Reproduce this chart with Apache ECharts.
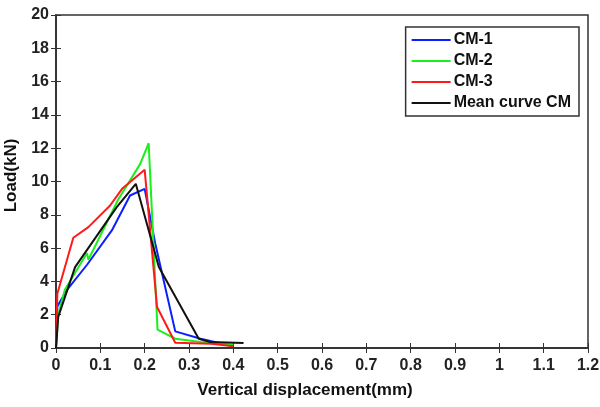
<!DOCTYPE html>
<html>
<head>
<meta charset="utf-8">
<script src="https://cdn.jsdelivr.net/npm/echarts@6/dist/echarts.min.js"></script>
<style>
  html, body { margin: 0; padding: 0; background: #fff; }
  #chart { width: 600px; height: 407px; }
</style>
</head>
<body>
<div id="chart"></div>
<script>
// series data: [displacement(mm), load(kN)]
var cm1 = [[0, 0], [0.003, 2.5], [0.024, 3.46], [0.07, 5.0], [0.126, 7.06], [0.167, 9.16], [0.2, 9.56], [0.224, 6.26], [0.269, 1.0], [0.326, 0.56], [0.4, 0.1]];
var cm2 = [[0, 0], [0.005, 2.0], [0.02, 3.5], [0.07, 5.7], [0.073, 5.3], [0.14, 8.9], [0.19, 11.06], [0.209, 12.3], [0.229, 1.1], [0.269, 0.56], [0.326, 0.36], [0.4, 0.2]];
var cm3 = [[0, 0], [0.003, 3.26], [0.039, 6.62], [0.073, 7.26], [0.122, 8.56], [0.149, 9.56], [0.2, 10.7], [0.228, 2.46], [0.269, 0.32], [0.35, 0.25], [0.4, 0.1]];
var meanCM = [[0, 0], [0.005, 1.86], [0.043, 4.86], [0.137, 8.46], [0.18, 9.86], [0.232, 4.86], [0.322, 0.56], [0.348, 0.36], [0.423, 0.3]];

var seriesNames = ['CM-1', 'CM-2', 'CM-3', 'Mean curve CM'];
var seriesColors = ['#0a1fff', '#19f019', '#ff1a1a', '#111111'];
var seriesData = [cm1, cm2, cm3, meanCM];

var chart = echarts.init(document.getElementById('chart'));

var axisColor = '#333';
var fontFam = 'Liberation Sans, Arial';
var labelStyle = { color: '#222', fontSize: 16, fontWeight: 'bold', fontFamily: fontFam };

var option = {
  animation: false,
  grid: {
    left: 56, right: 12, top: 15, bottom: 59,
    outerBoundsMode: 'none',
    containLabel: false,
    show: true, borderColor: axisColor, borderWidth: 1.5, backgroundColor: '#fff'
  },
  legend: {
    orient: 'vertical',
    right: 21, top: 27,
    itemWidth: 39, itemHeight: 2, itemGap: 5,
    padding: [5, 8, 5, 6],
    borderColor: '#333', borderWidth: 1.5,
    backgroundColor: '#fff',
    icon: 'rect',
    textStyle: { color: '#111', fontSize: 16, lineHeight: 16, fontWeight: 'bold', fontFamily: fontFam, padding: [0, 0, 0, -2] },
    data: seriesNames
  },
  xAxis: [{
    type: 'value', min: 0, max: 1.2, interval: 0.1,
    name: 'Vertical displacement(mm)', nameLocation: 'middle', nameGap: 34,
    nameTextStyle: { color: '#111', fontSize: 17, fontWeight: 'bold', fontFamily: fontFam, padding: [0, 34, 0, 0] },
    axisLine: { lineStyle: { color: axisColor, width: 1.5 } },
    axisTick: { inside: true, length: 5, lineStyle: { color: axisColor } },
    axisLabel: Object.assign({ margin: 10, formatter: function (v) { return +v.toFixed(1) + ''; } }, labelStyle),
    splitLine: { show: false }
  }, {
    type: 'value', min: 0, max: 1.2, interval: 0.1, position: 'top',
    axisLine: { lineStyle: { color: axisColor, width: 1.5 } },
    axisTick: { inside: true, length: 5, lineStyle: { color: axisColor } },
    axisLabel: { show: false }, splitLine: { show: false }
  }],
  yAxis: [{
    type: 'value', min: 0, max: 20, interval: 2,
    name: 'Load(kN)', nameLocation: 'middle', nameGap: 32, nameRotate: 90,
    nameTextStyle: { color: '#111', fontSize: 17, fontWeight: 'bold', fontFamily: fontFam, padding: [0, 0, 0, 12] },
    axisLine: { show: true, lineStyle: { color: axisColor, width: 1.5 } },
    axisTick: { show: true, inside: true, length: 5, lineStyle: { color: axisColor } },
    axisLabel: Object.assign({ margin: 7 }, labelStyle),
    splitLine: { show: false }
  }, {
    type: 'value', min: 0, max: 20, interval: 2, position: 'right',
    axisLine: { show: true, lineStyle: { color: axisColor, width: 1.5 } },
    axisTick: { show: true, inside: true, length: 5, lineStyle: { color: axisColor } },
    axisLabel: { show: false }, splitLine: { show: false }
  }],
  series: seriesNames.map(function (name, i) {
    return {
      name: name,
      type: 'line',
      data: seriesData[i],
      symbol: 'none',
      color: seriesColors[i],
      lineStyle: { width: 2, color: seriesColors[i] }
    };
  })
};

chart.setOption(option);
</script>
</body>
</html>
